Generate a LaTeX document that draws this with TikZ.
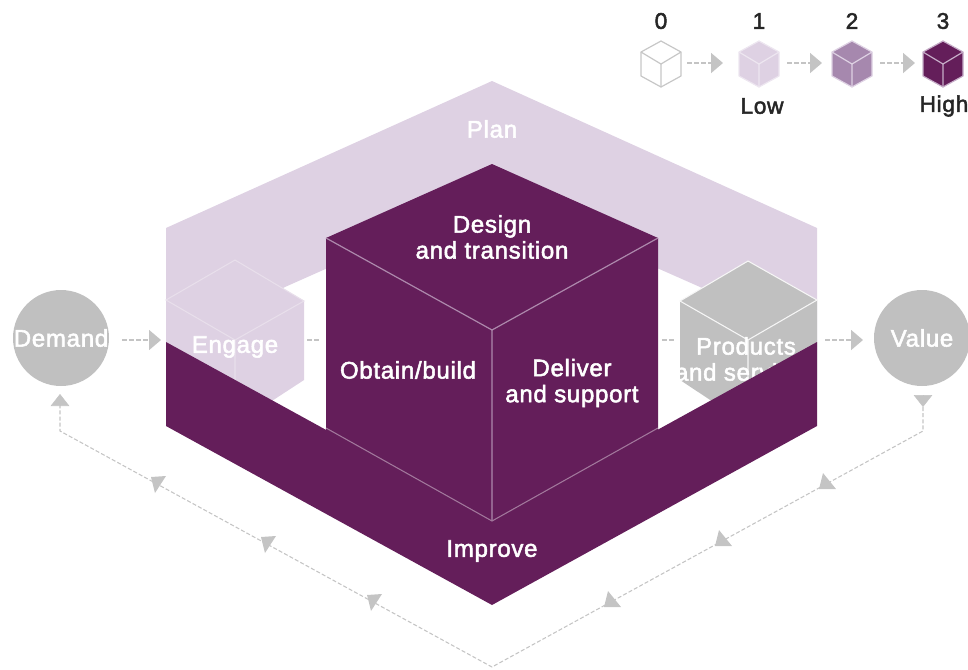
\documentclass[tikz,border=0pt]{standalone}
\usepackage{fontspec}
\setmainfont[FakeBold=2.2,LetterSpace=3]{Liberation Sans}
\usetikzlibrary{arrows.meta}
\definecolor{deep}{HTML}{641E5A}
\definecolor{pale}{HTML}{DED1E3}
\definecolor{mid}{HTML}{A688AE}
\definecolor{greyc}{HTML}{C0C0C0}
\definecolor{flowc}{HTML}{C4C4C4}
\tikzset{
  lbl/.style={text=white,font=\fontsize{18pt}{19.5pt}\selectfont,align=center,inner sep=0pt},
  dark/.style={text=black!85,font=\fontsize{17pt}{19pt}\selectfont,align=center,inner sep=0pt},
  circ/.style={circle,fill=greyc,minimum size=72pt,inner sep=0pt,text=white,font=\fontsize{18pt}{19.5pt}\selectfont},
  loop/.style={draw=flowc,line width=0.8pt,dash pattern=on 3pt off 1.6pt},
  headtip/.style={draw=flowc,-{Triangle[length=9pt,width=14pt,fill=flowc]}},
  hflow/.style={draw=flowc,line width=1.3pt,dash pattern=on 3.5pt off 1.8pt},
  hflowtip/.style={hflow,-{Triangle[length=9pt,width=15pt,fill=flowc]}},
  edge/.style={draw=pale!70!white,line width=0.8pt},
  lefttip/.pic={\fill[flowc] (-6,-7)--(9,-8)--(-2,9)--cycle;},
  righttip/.pic={\fill[flowc] (-7,5)--(-3,-11)--(10,5)--cycle;},
  minicube/.pic={
    \path[fill=\cubefill] (0,-23)--(20,-12)--(20,12)--(0,23)--(-20,12)--(-20,-12)--cycle;
    \draw[draw=\cubeline,line width=0.9pt,line join=round] (0,-23)--(20,-12)--(20,12)--(0,23)--(-20,12)--(-20,-12)--cycle;
    \draw[draw=\cubeline,line width=0.9pt] (-20,-12)--(0,0)--(20,-12) (0,0)--(0,23);
  }
}
\begin{document}
\begin{tikzpicture}[x=0.75pt,y=-0.75pt]
\useasboundingbox (0,0) rectangle (968,669);
% Plan band
\fill[pale] (166,228)--(492,81)--(817,228)--(817,350)--(700,287)--(492,195)--(285,287)--(166,350)--cycle;
\node[lbl] (plan) at (492,129) {Plan};
% Engage cube
\fill[pale] (235,260)--(304,301)--(304,380)--(235,425)--(166,380)--(166,300)--cycle;
\draw[edge] (166,300)--(235,260)--(304,301)--(235,340)--cycle (235,340)--(235,425);
\node[lbl] (engage) at (235,347) {Engage};
% Products cube
\fill[greyc] (748,261)--(817,300)--(817,380)--(748,425)--(680,380)--(680,301)--cycle;
\draw[draw=white!85!greyc,line width=0.8pt] (680,301)--(748,261)--(817,300)--(748,340)--cycle (748,340)--(748,425);
\node[lbl] (products) at (746,359) {Products\\and services};
% Centre cube
\fill[deep] (492,164)--(658,238)--(658,440)--(492,530)--(326,440)--(326,238)--cycle;
% Improve band
\fill[deep] (166,342)--(492,521)--(817,342)--(817,426)--(492,605)--(166,426)--cycle;
\draw[draw=pale!60!deep,line width=0.9pt] (326,238)--(492,330)--(658,238) (492,330)--(492,521);
\draw[draw=white!40!deep,line width=0.8pt] (326,428)--(492,521)--(658,428);
\node[lbl] (design) at (492,237) {Design\\and transition};
\node[lbl] (obtain) at (408,370) {Obtain/build};
\node[lbl] (deliver) at (572,383) {Deliver\\and support};
\node[lbl] (improve) at (492,551) {Improve};
% Demand, Value
\node[circ] (demand) at (61,338) {Demand};
\node[circ] (value) at (922,338) {Value};
% horizontal flows
\coordinate (e1) at (161,340);
\coordinate (s2) at (307,340);
\coordinate (e2) at (321,340);
\coordinate (s3) at (662,340);
\coordinate (e3) at (676,340);
\coordinate (s4) at (825,340);
\coordinate (s1) at (122,340);
\coordinate (e4) at (863,340);
\draw[hflowtip] (s1)--(e1);
\draw[hflow] (s2)--(e2);
\draw[hflow] (s3)--(e3);
\draw[hflowtip] (s4)--(e4);
% return loop
\coordinate (vb) at (923,395);
\coordinate (vt) at (923,407);
\coordinate (vc) at (923,431);
\coordinate (r1) at (826,484);
\coordinate (r2) at (722,541);
\coordinate (r3) at (611,602);
\coordinate (bot) at (492,667);
\coordinate (l3) at (373,602);
\coordinate (l2) at (267,544);
\coordinate (l1) at (157,484);
\coordinate (dc) at (60,431);
\coordinate (db) at (60,404);
\coordinate (dt) at (60,394);
\draw[headtip] (vb)--(vt);
\draw[loop] (vt)--(vc)--(bot)--(dc)--(db);
\draw[headtip] (db)--(dt);
\pic at (r1) {righttip};
\pic at (r2) {righttip};
\pic at (r3) {righttip};
\pic at (l1) {lefttip};
\pic at (l2) {lefttip};
\pic at (l3) {lefttip};
% legend
\def\cubefill{white}\def\cubeline{black!22}
\pic at (661,64) {minicube};
\def\cubefill{pale}\def\cubeline{pale!55!white}
\pic at (759,64) {minicube};
\def\cubefill{mid}\def\cubeline{pale}
\pic at (852,64) {minicube};
\def\cubefill{deep}\def\cubeline{pale!80!deep}
\pic at (943,64) {minicube};
\node[dark] (n0) at (661,21) {0};
\node[dark] (n1) at (759,21) {1};
\node[dark] (n2) at (852,21) {2};
\node[dark] (n3) at (943,21) {3};
\node[dark] (low) at (762,106) {Low};
\node[dark] (high) at (944,106) {High};
\coordinate (a1) at (687,63);
\coordinate (b1) at (723,63);
\coordinate (a2) at (787,63);
\coordinate (b2) at (822,63);
\coordinate (a3) at (880,63);
\coordinate (b3) at (915,63);
\draw[hflowtip] (a1)--(b1);
\draw[hflowtip] (a2)--(b2);
\draw[hflowtip] (a3)--(b3);
\end{tikzpicture}
\end{document}
